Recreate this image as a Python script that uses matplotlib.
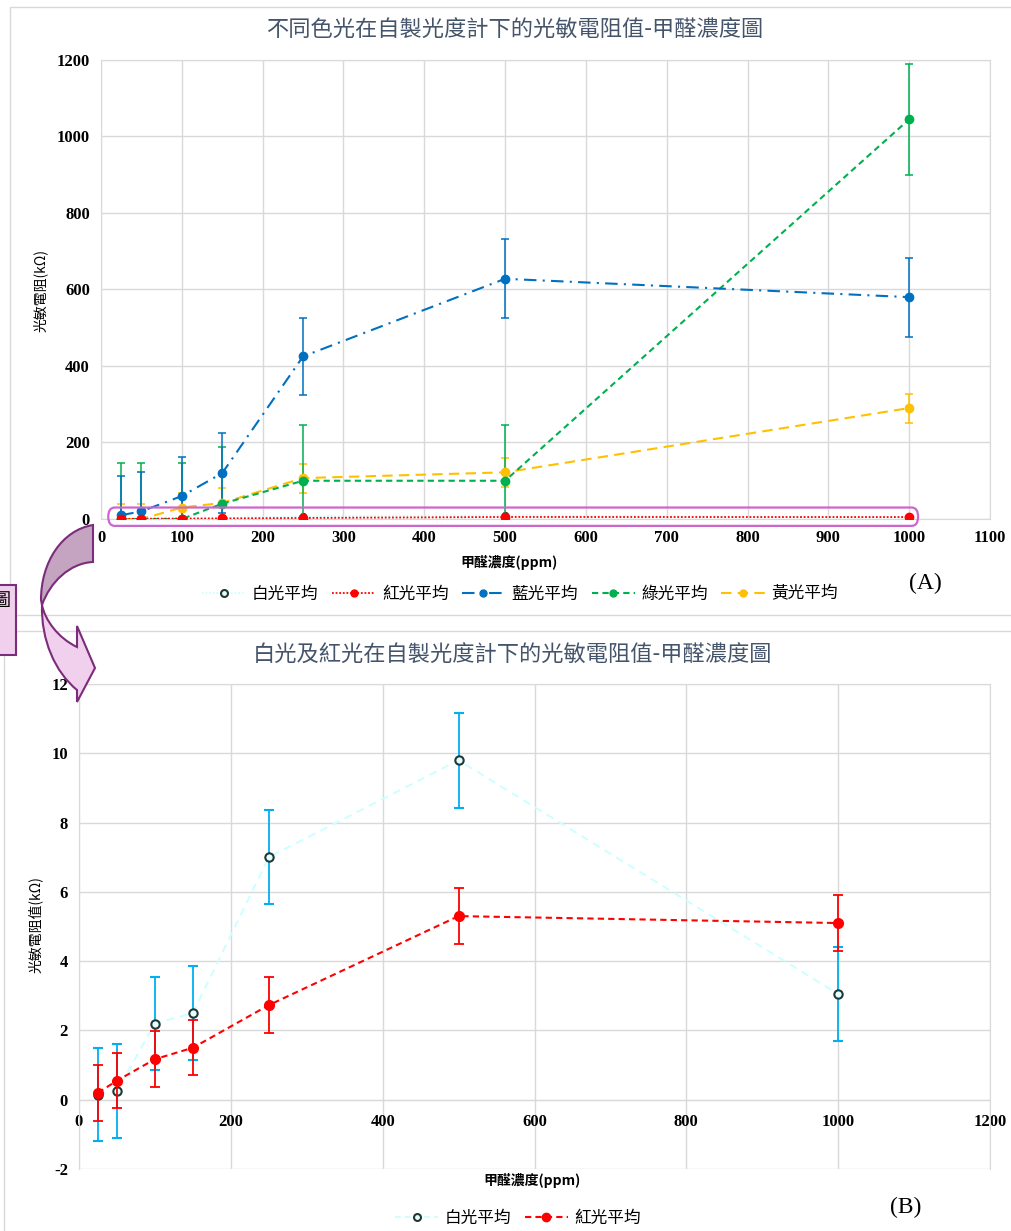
import matplotlib
matplotlib.use('Agg')
import matplotlib.pyplot as plt
from matplotlib.path import Path
from matplotlib.patches import PathPatch, Rectangle, FancyBboxPatch
from matplotlib.lines import Line2D

cjk = ['Noto Sans CJK TC', 'DejaVu Sans']
plt.rcParams['font.family'] = cjk
plt.rcParams['axes.unicode_minus'] = False

# data
conc = [25, 50, 100, 150, 250, 500, 1000]

white_avg = [0.15, 0.25, 2.2, 2.5, 7.0, 9.8, 3.05]
white_err = [1.35, 1.35, 1.35, 1.35, 1.35, 1.37, 1.35]
red_avg = [0.2, 0.55, 1.17, 1.5, 2.73, 5.3, 5.1]
red_err = [0.8, 0.8, 0.8, 0.8, 0.8, 0.8, 0.8]
blue_avg = [10, 20, 60, 120, 425, 628, 580]
blue_err = [102, 102, 103, 104, 100, 103, 103]
green_avg = [0, 0, 0, 40, 100, 100, 1045]
green_err = [147, 147, 147, 147, 145, 145, 145]
yellow_avg = [0, 0, 30, 42, 107, 122, 290]
yellow_err = [38, 38, 38, 38, 38, 38, 38]

title_a = '不同色光在自製光度計下的光敏電阻值-甲醛濃度圖'
title_b = '白光及紅光在自製光度計下的光敏電阻值-甲醛濃度圖'
xlab = '甲醛濃度(ppm)'

W, H = 1012, 1231
fig = plt.figure(figsize=(W / 100, H / 100), dpi=100)


def fx(x):
    return x / W


def fy(y):
    return 1 - y / H


# panel borders
fig.patches.append(Rectangle((fx(10), fy(615)), fx(1010), 608 / H, transform=fig.transFigure,
                             fill=False, ec='#d9d9d9', lw=1))
fig.patches.append(Rectangle((fx(4), fy(1240)), fx(1020), 609 / H, transform=fig.transFigure,
                             fill=False, ec='#d9d9d9', lw=1))

grid_c = '#d9d9d9'
tick_font = matplotlib.font_manager.FontProperties(family='Liberation Serif', weight='bold', size=12)


def style(ax):
    ax.grid(True, color=grid_c, lw=1)
    ax.set_axisbelow(True)
    for s in ax.spines.values():
        s.set_color(grid_c)
    ax.tick_params(length=0, pad=8)
    ax.set_xticklabels([str(int(v)) for v in ax.get_xticks()], fontproperties=tick_font)
    ax.set_yticklabels([str(int(v)) for v in ax.get_yticks()], fontproperties=tick_font)


# series styles
st_white = dict(color='#ccffff', marker='o', mfc='#e6ffff', mec='#203838')
st_red = dict(color='#ff0000', marker='o')
st_blue = dict(color='#0070c0', marker='o', ls=(0, (6, 3, 1, 3)))
st_green = dict(color='#00b050', marker='o', ls=(0, (3, 2)))
st_yellow = dict(color='#ffc000', marker='o', ls=(0, (5, 3)))

# ---------- top chart (A) ----------
ax1 = fig.add_axes([fx(101), fy(519), 889 / W, 459 / H])
ax1.set_xlim(0, 1100)
ax1.set_ylim(0, 1200)
ax1.set_xticks(range(0, 1101, 100))
ax1.set_yticks(range(0, 1201, 200))
style(ax1)

ek = dict(elinewidth=1.1, capsize=3, capthick=1.1)
ax1.errorbar(conc, yellow_avg, yerr=yellow_err, lw=1.5, ms=6, zorder=3, **st_yellow, **ek)
ax1.errorbar(conc, green_avg, yerr=green_err, lw=1.5, ms=6, zorder=3, **st_green, **ek)
ax1.errorbar(conc, blue_avg, yerr=blue_err, lw=1.5, ms=6, zorder=3, **st_blue, **ek)
ax1.errorbar(conc, red_avg, yerr=red_err, ls=(0, (1, 1)), lw=1.3, ms=6, zorder=4, **st_red, **ek)
ax1.errorbar(conc, white_avg, yerr=white_err, ecolor='#00b0f0', ls=(0, (1, 1)), lw=1.3, ms=4,
             mew=1.3, zorder=2, **st_white, **ek)

ax1.add_patch(FancyBboxPatch((9, -18), 1002, 48, boxstyle='round,pad=0,rounding_size=8',
                             fill=False, ec='#cc66cc', lw=1.6, clip_on=False, zorder=5,
                             mutation_aspect=3))

fig.text(fx(515), fy(30), title_a, ha='center', va='center', fontsize=16, color='#44546a')
fig.text(fx(40), fy(290), '光敏電阻(kΩ)', rotation=90, ha='center', va='center', fontsize=10)
fig.text(fx(509), fy(562), xlab, ha='center', va='center', fontsize=10, weight='bold')
fig.text(fx(925), fy(583), '(A)', ha='center', va='center', fontsize=17, family='Liberation Serif')

leg_a = [
    (Line2D([], [], ls=(0, (1, 1)), lw=1.3, ms=5, mew=1.5, **st_white), '白光平均'),
    (Line2D([], [], ls=(0, (1, 1)), lw=1.3, ms=5, **st_red), '紅光平均'),
    (Line2D([], [], lw=1.5, ms=5, **st_blue), '藍光平均'),
    (Line2D([], [], lw=1.5, ms=5, **st_green), '綠光平均'),
    (Line2D([], [], lw=1.5, ms=5, **st_yellow), '黃光平均'),
]
fig.legend([a for a, b in leg_a], [b for a, b in leg_a], loc='center', ncol=5,
           bbox_to_anchor=(fx(520), fy(594)), frameon=False, fontsize=12,
           handlelength=2.6, columnspacing=0.8, handletextpad=0.4)

# ---------- bottom chart (B) ----------
ax2 = fig.add_axes([fx(79), fy(1169), 911 / W, 485 / H])
ax2.set_xlim(0, 1200)
ax2.set_ylim(-2, 12)
ax2.set_xticks(range(0, 1201, 200))
ax2.set_yticks(range(-2, 13, 2))
ax2.spines['bottom'].set_position(('data', 0))
style(ax2)
ax2.tick_params(axis='x', pad=10)

ek2 = dict(elinewidth=1.3, capsize=3.5, capthick=1.3)
ax2.errorbar(conc, white_avg, yerr=white_err, ecolor='#00b0f0', ls=(0, (4, 3)), lw=1.4, ms=6,
             mew=1.5, zorder=3, **st_white, **ek2)
ax2.errorbar(conc, red_avg, yerr=red_err, ls=(0, (3, 2)), lw=1.5, ms=7, zorder=4,
             **st_red, **ek2)

fig.text(fx(513), fy(655), title_b, ha='center', va='center', fontsize=16, color='#44546a')
fig.text(fx(35), fy(925), '光敏電阻值(kΩ)', rotation=90, ha='center', va='center', fontsize=10)
fig.text(fx(532), fy(1180), xlab, ha='center', va='center', fontsize=10, weight='bold')
fig.text(fx(906), fy(1207), '(B)', ha='center', va='center', fontsize=17, family='Liberation Serif')

leg_b = [
    (Line2D([], [], ls=(0, (3, 2)), lw=1.4, ms=5, mew=1.5, **st_white), '白光平均'),
    (Line2D([], [], ls=(0, (3, 2)), lw=1.5, ms=6, **st_red), '紅光平均'),
]
fig.legend([a for a, b in leg_b], [b for a, b in leg_b], loc='center', ncol=2,
           bbox_to_anchor=(fx(518), fy(1218)), frameon=False, fontsize=12,
           handlelength=2.6, columnspacing=0.8, handletextpad=0.4)

# ---------- curved arrow and side box ----------
fig.patches.append(Rectangle((fx(-20), fy(655)), fx(36), 70 / H, transform=fig.transFigure,
                             fc='#f0d0ec', ec='#7b2c7b', lw=1.5, zorder=5))
fig.text(fx(2), fy(601), '圖', ha='center', va='center', fontsize=13, zorder=6)


def to_fig(pts):
    return [(fx(x), fy(y)) for x, y in pts]


M, C, L, Z = Path.MOVETO, Path.CURVE4, Path.LINETO, Path.CLOSEPOLY
dark = Path(to_fig([(93, 525), (62, 530), (41, 562), (41, 600), (42, 605),
                    (50, 582), (70, 563), (93, 562), (93, 525), (93, 525)]),
            [M, C, C, C, L, C, C, C, L, Z])
light = Path(to_fig([(42, 605), (41, 640), (55, 672), (77, 690), (77, 702), (95, 668),
                     (77, 626), (77, 647), (58, 638), (45, 620), (42, 605), (42, 605)]),
             [M, C, C, C, L, L, L, L, C, C, C, Z])
fig.patches.append(PathPatch(dark, transform=fig.transFigure, fc='#c4a4c0', ec='#7b2c7b',
                             lw=1.5, zorder=6))
fig.patches.append(PathPatch(light, transform=fig.transFigure, fc='#f0d0ec', ec='#7b2c7b',
                             lw=1.5, zorder=6))

fig.savefig('out.png', dpi=100)
